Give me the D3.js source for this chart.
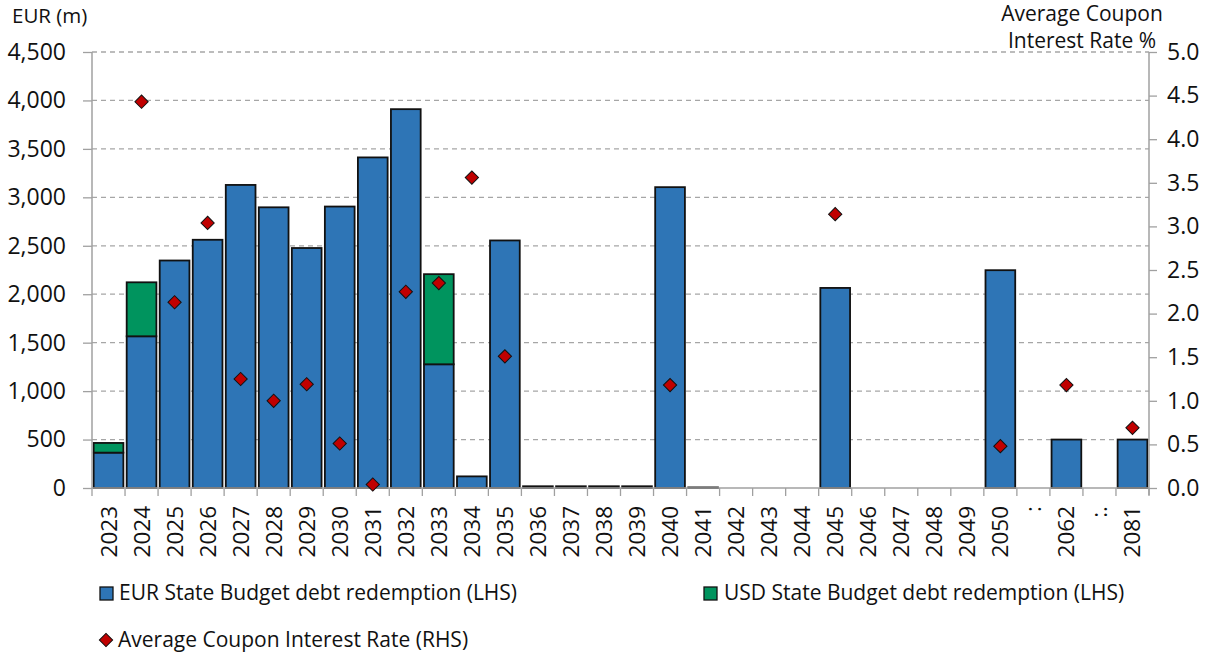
<!DOCTYPE html>
<html>
<head>
<meta charset="utf-8">
<script src="https://cdn.jsdelivr.net/npm/d3@7"></script>
<style>
  html, body { margin: 0; padding: 0; background: #fff; }
  svg { display: block; font-family: "Open Sans", sans-serif; }
</style>
</head>
<body>
<svg id="chart" width="1212" height="652"></svg>
<script>
// ---- data ----
const categories = ["2023","2024","2025","2026","2027","2028","2029","2030","2031","2032","2033","2034","2035","2036","2037","2038","2039","2040","2041","2042","2043","2044","2045","2046","2047","2048","2049","2050",":","2062",":.","2081"];
const eurRedemption = [365,1566,2348,2562,3128,2897,2477,2905,3412,3910,1277,120,2555,18,18,18,18,3105,6,0,0,0,2065,0,0,0,0,2248,null,500,null,500];
const usdRedemption = [100,557,0,0,0,0,0,0,0,0,930,0,0,0,0,0,0,0,0,0,0,0,0,0,0,0,0,0,null,0,null,0];
const couponRate = [null,4.43,2.13,3.04,1.25,1.00,1.19,0.51,0.04,2.25,2.35,3.56,1.51,null,null,null,null,1.18,null,null,null,null,3.14,null,null,null,null,0.48,null,1.18,null,0.69];
const leftTicks = [0,500,1000,1500,2000,2500,3000,3500,4000,4500];
const rightTicks = [0,0.5,1.0,1.5,2.0,2.5,3.0,3.5,4.0,4.5,5.0];
const seriesNames = ["EUR State Budget debt redemption (LHS)","USD State Budget debt redemption (LHS)","Average Coupon Interest Rate (RHS)"];

const colors = { eur: "#2e75b6", usd: "#00945e", rate: "#c00000", grid: "#a6a6a6", axis: "#a0a0a0" };

const svg = d3.select("#chart");
const L = 92, R = 1149, T = 52, B = 488;

const idx = categories.map((c, i) => i);
const x = d3.scaleBand().domain(idx).range([L, R]).paddingInner(0.1).paddingOuter(0.05);
const yL = d3.scaleLinear().domain([0, 4500]).range([B, T]);
const yR = d3.scaleLinear().domain([0, 5]).range([B, T]);

const rows = idx.map(i => ({ i, eur: eurRedemption[i] || 0, usd: usdRedemption[i] || 0, rate: couponRate[i] }));

// gridlines
svg.append("g").selectAll("line").data(leftTicks.filter(t => t > 0)).join("line")
  .attr("x1", L).attr("x2", R).attr("y1", d => yL(d)).attr("y2", d => yL(d))
  .attr("stroke", colors.grid).attr("stroke-width", 1.3).attr("stroke-dasharray", "5,4");

// stacked bars
const stack = d3.stack().keys(["eur", "usd"]);
const stacked = stack(rows);
const fills = { eur: colors.eur, usd: colors.usd };
svg.append("g").selectAll("g").data(stacked).join("g")
  .attr("fill", d => fills[d.key])
  .selectAll("rect").data(d => d.filter(p => p[1] - p[0] > 0)).join("rect")
  .attr("x", d => x(d.data.i))
  .attr("width", x.bandwidth())
  .attr("y", d => yL(d[1]))
  .attr("height", d => yL(d[0]) - yL(d[1]))
  .attr("stroke", "#111").attr("stroke-width", 1.8);

// left axis
const axisL = svg.append("g").attr("transform", `translate(${L},0)`)
  .call(d3.axisLeft(yL).tickValues(leftTicks).tickSize(9).tickPadding(17).tickFormat(d3.format(",")));
axisL.select(".domain").attr("stroke", colors.axis).attr("stroke-width", 1.5).attr("d", `M0,${T}V${B}`);
axisL.selectAll(".tick line").attr("stroke", colors.axis).attr("stroke-width", 1.3);
axisL.selectAll(".tick text").attr("font-size", 23).attr("fill", "#111").attr("font-family", "Open Sans");

// right axis
const axisR = svg.append("g").attr("transform", `translate(${R},0)`)
  .call(d3.axisRight(yR).tickValues(rightTicks).tickSize(8).tickPadding(10).tickFormat(d3.format(".1f")));
axisR.select(".domain").attr("stroke", colors.axis).attr("stroke-width", 1.5).attr("d", `M0,${T}V${B + 7}`);
axisR.selectAll(".tick line").attr("stroke", colors.axis).attr("stroke-width", 1.3);
axisR.selectAll(".tick text").attr("font-size", 23).attr("fill", "#111").attr("font-family", "Open Sans");

// bottom axis: baseline + boundary ticks + rotated labels
const step = x.step();
const boundaries = d3.range(categories.length + 1).map(i => L + x.paddingOuter() * step - x.paddingInner() * step / 2 + i * step);
const gx = svg.append("g");
gx.append("line").attr("x1", L).attr("x2", R).attr("y1", B).attr("y2", B)
  .attr("stroke", colors.axis).attr("stroke-width", 1.5);
gx.selectAll("line.bt").data(boundaries).join("line").attr("class", "bt")
  .attr("x1", d => d).attr("x2", d => d).attr("y1", B).attr("y2", B + 8)
  .attr("stroke", colors.axis).attr("stroke-width", 1.3);
gx.selectAll("text").data(idx).join("text")
  .attr("transform", i => `translate(${x(i) + x.bandwidth() / 2 + 8},${B + 18}) rotate(-90)`)
  .attr("text-anchor", "end")
  .attr("font-size", 22.5).attr("fill", "#111")
  .text(i => categories[i]);

// coupon diamonds (square rotated 45deg)
const diamond = d3.symbol().type(d3.symbolSquare).size(88);
svg.append("g").selectAll("path").data(rows.filter(r => r.rate != null)).join("path")
  .attr("d", diamond)
  .attr("transform", r => `translate(${x(r.i) + x.bandwidth() / 2},${yR(r.rate)}) rotate(45)`)
  .attr("fill", colors.rate).attr("stroke", "#111").attr("stroke-width", 1);

// axis titles
svg.append("text").attr("x", 12).attr("y", 23).attr("font-size", 20.5).attr("fill", "#111").text("EUR (m)");
svg.append("text").attr("x", 1082).attr("y", 21).attr("text-anchor", "middle").attr("font-size", 21).attr("fill", "#111").text("Average Coupon");
svg.append("text").attr("x", 1082).attr("y", 48).attr("text-anchor", "middle").attr("font-size", 21).attr("fill", "#111").text("Interest Rate %");

// legend
const lg = svg.append("g").attr("font-size", 21).attr("fill", "#111");
lg.append("rect").attr("x", 100).attr("y", 587).attr("width", 13).attr("height", 13)
  .attr("fill", colors.eur).attr("stroke", "#111").attr("stroke-width", 1.3);
lg.append("text").attr("x", 119).attr("y", 600).text(seriesNames[0]);
lg.append("rect").attr("x", 704).attr("y", 587).attr("width", 13).attr("height", 13)
  .attr("fill", colors.usd).attr("stroke", "#111").attr("stroke-width", 1.3);
lg.append("text").attr("x", 724).attr("y", 600).text(seriesNames[1]);
lg.append("path").attr("d", diamond).attr("transform", "translate(106,640) rotate(45)")
  .attr("fill", colors.rate).attr("stroke", "#111").attr("stroke-width", 1);
lg.append("text").attr("x", 118).attr("y", 647).text(seriesNames[2]);
</script>
</body>
</html>
